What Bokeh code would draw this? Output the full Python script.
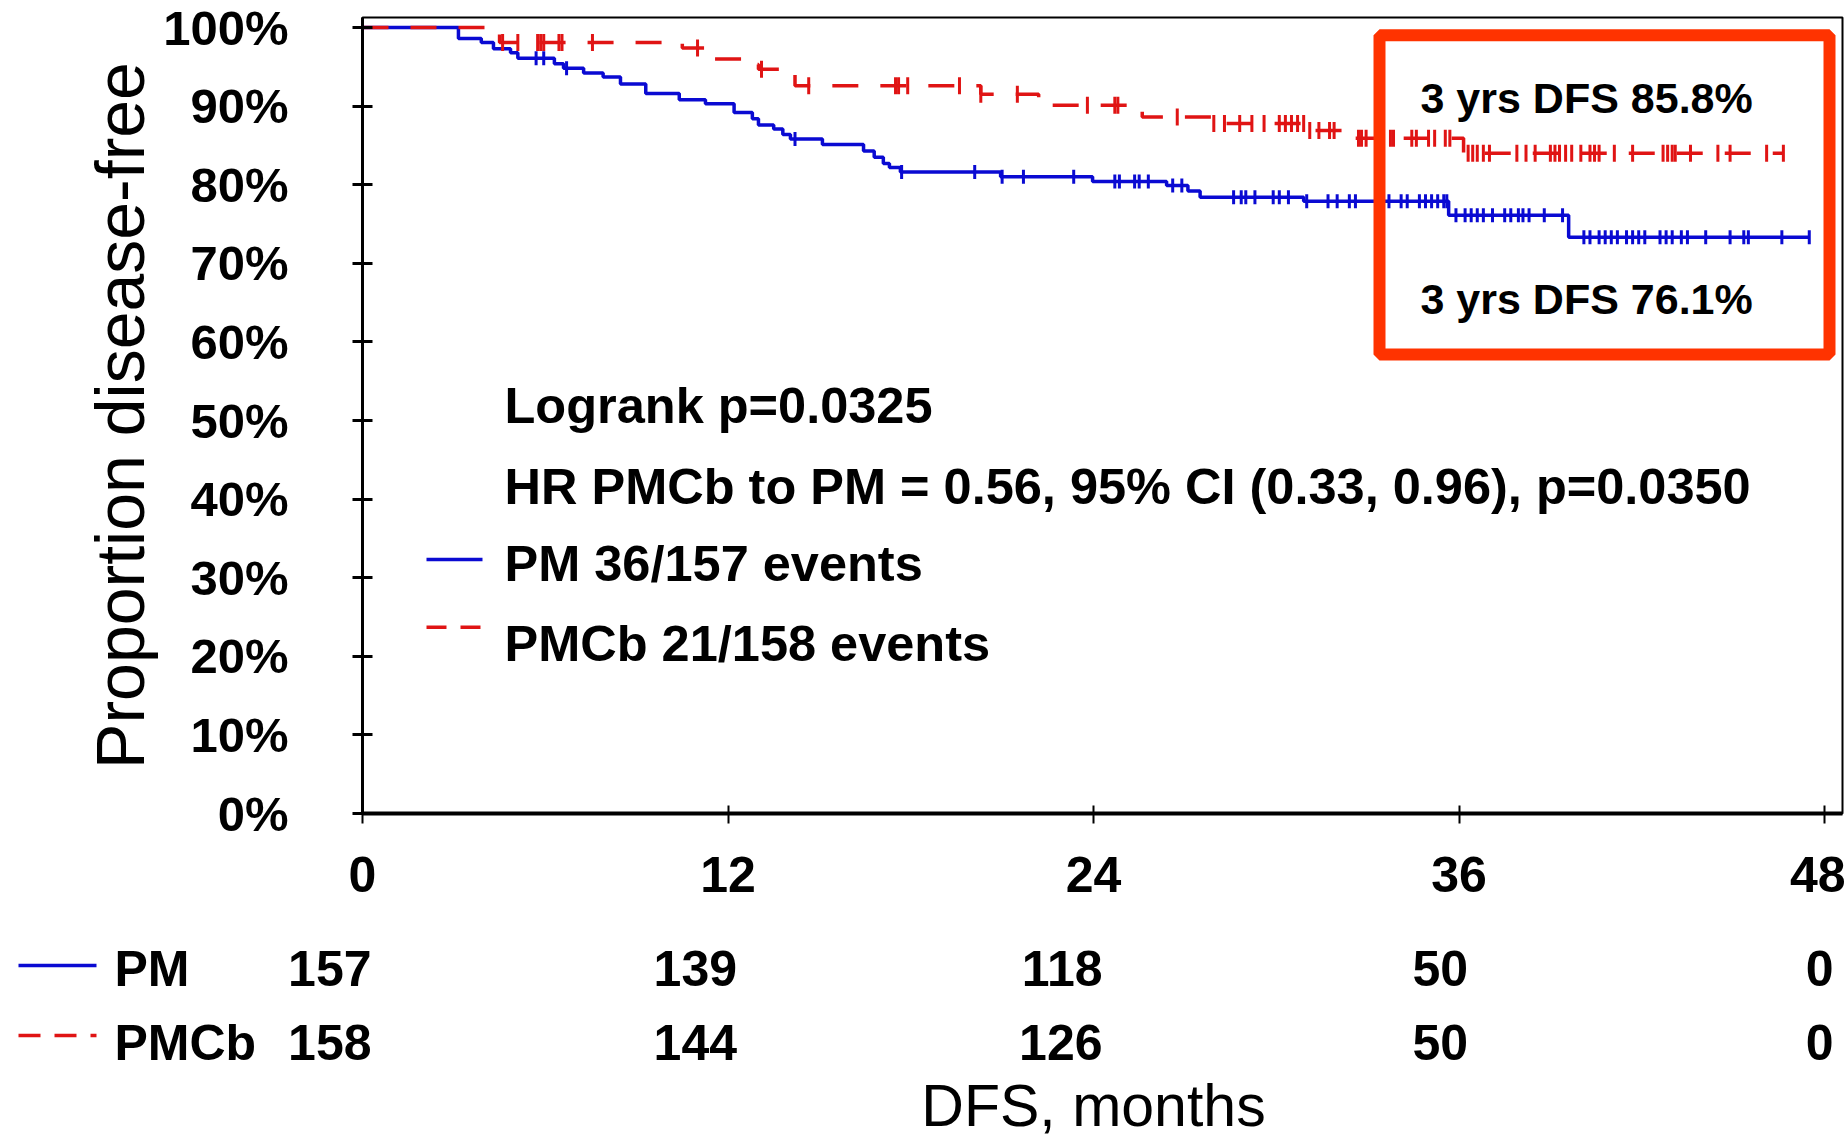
import numpy as np
from bokeh.plotting import figure
from bokeh.models import Range1d, FixedTicker, NumeralTickFormatter, BoxAnnotation
from bokeh.embed import file_html
from bokeh.resources import INLINE
from bokeh.core.properties import value

# ---------------- data ----------------
pm_times = [0.0, 3.15, 3.9, 4.3, 4.86, 5.1, 6.3, 6.6, 7.26, 7.9, 8.47, 9.3, 10.4, 11.26,
            12.2, 12.8, 13.0, 13.5, 13.8, 14.05, 15.1, 16.45, 16.8, 17.1, 17.3, 17.66,
            20.95, 23.97, 26.4, 27.1, 27.5, 30.9, 35.66, 39.6]
pm_surv = [1.0, 0.986, 0.981, 0.973, 0.968, 0.961, 0.954, 0.948, 0.942, 0.937, 0.928, 0.916,
           0.908, 0.903, 0.892, 0.884, 0.876, 0.871, 0.864, 0.858, 0.851, 0.843, 0.835, 0.827,
           0.822, 0.816, 0.810, 0.804, 0.799, 0.792, 0.784, 0.779, 0.761, 0.733]
pm_last = 47.5
pm_censored = [5.7, 5.95, 6.7, 14.2, 17.7, 20.1, 21.0, 21.7, 23.35, 24.7, 24.85, 25.35, 25.5,
               25.8, 26.6, 26.9, 28.6, 28.85, 29.0, 29.3, 29.9, 30.1, 30.4, 31.0, 31.7, 32.0,
               32.4, 32.6, 33.3, 33.45, 33.7, 34.1, 34.3, 34.7, 34.9, 35.1, 35.3, 35.5, 35.6,
               35.9, 36.2, 36.4, 36.6, 36.8, 37.1, 37.5, 37.7, 37.95, 38.1, 38.3, 38.8, 39.4,
               40.1, 40.3, 40.6, 40.8, 41.0, 41.2, 41.5, 41.7, 41.9, 42.1, 42.6, 42.8, 43.0,
               43.3, 43.5, 44.1, 44.9, 45.35, 45.5, 46.6, 47.5]

pmcb_times = [0.0, 4.5, 10.5, 11.26, 12.6, 13.0, 14.2, 20.3, 22.2, 25.6, 27.9, 31.06, 32.4, 36.15]
pmcb_surv = [1.0, 0.981, 0.974, 0.960, 0.953, 0.947, 0.926, 0.915, 0.901, 0.886, 0.878, 0.869,
             0.859, 0.840]
pmcb_last = 46.65
pmcb_censored = [4.6, 5.1, 5.75, 5.85, 5.95, 6.45, 6.55, 7.55, 11.0, 13.1, 14.65, 17.5, 17.6,
                 17.9, 19.6, 20.3, 21.5, 23.8, 24.7, 24.8, 26.75, 27.95, 28.3, 28.8, 29.2, 29.6,
                 30.1, 30.3, 30.5, 30.7, 30.9, 31.1, 31.4, 31.75, 31.9, 32.7, 32.8, 32.95, 33.75,
                 33.85, 34.45, 34.6, 35.0, 35.2, 35.55, 35.7, 36.3, 36.45, 36.6, 36.8, 37.0, 37.9,
                 38.2, 38.5, 39.0, 39.15, 39.3, 39.5, 39.7, 40.0, 40.3, 40.45, 40.6, 41.1, 41.7,
                 42.7, 42.85, 43.0, 43.1, 43.6, 44.5, 44.9, 46.1, 46.65]

risk_months = [0, 12, 24, 36, 48]
pm_at_risk = [157, 139, 118, 50, 0]
pmcb_at_risk = [158, 144, 126, 50, 0]
y_ticks = [0.0, 0.1, 0.2, 0.3, 0.4, 0.5, 0.6, 0.7, 0.8, 0.9, 1.0]

arm_labels = ["PM", "PMCb"]
legend_texts = ["PM 36/157 events", "PMCb 21/158 events"]
stat_texts = ["Logrank p=0.0325", "HR PMCb to PM = 0.56, 95% CI (0.33, 0.96),  p=0.0350"]
dfs_texts = ["3 yrs DFS 85.8%", "3 yrs DFS 76.1%"]

# ---------------- layout / style ----------------
BLUE = "#0a0ad2"
RED = "#e01414"
BOX = "#ff3300"
FNAME = "Liberation Sans"
FONT = value(FNAME)
W = 1845
H_TOP, H_TAB = 920, 224
FL, FT, FR = 362, 17, 3           # frame borders of the survival plot (px)
FRAME_H = 796
FB = H_TOP - FT - FRAME_H
PX = 1462.0 / 48.0                # px per month
PY = 786.0                        # px per unit of survival
X0, X1 = 0.0, (W - FL - FR) / PX
Y0, Y1 = 0.0, FRAME_H / PY


def mx(px_from_left_axis):
    """horizontal pixel offset from the y axis -> months"""
    return px_from_left_axis / PX


def step_xy(times, surv, last):
    return list(times) + [last], list(surv) + [surv[-1]]


def surv_at(times, surv, pts):
    idx = np.searchsorted(np.asarray(times), np.asarray(pts), side="right") - 1
    return [surv[i] for i in idx]


p = figure(width=W, height=H_TOP, x_range=Range1d(X0, X1), y_range=Range1d(Y0, Y1),
           output_backend="svg", toolbar_location=None,
           min_border_left=FL, min_border_right=FR, min_border_top=FT, min_border_bottom=FB)
p.grid.visible = False
p.outline_line_color = "black"
p.outline_line_width = 2
p.background_fill_color = "white"
p.border_fill_color = "white"

xa = p.xaxis[0]
xa.ticker = FixedTicker(ticks=risk_months)
xa.major_label_text_font = FNAME
xa.major_label_text_font_size = "50px"
xa.major_label_text_font_style = "bold"
xa.major_label_text_color = "black"
xa.major_label_standoff = 33
xa.major_tick_in = 8
xa.major_tick_out = 10
xa.major_tick_line_width = 2
xa.minor_tick_line_color = None
xa.axis_line_width = 4
xa.axis_line_color = "black"

ya = p.yaxis[0]
ya.ticker = FixedTicker(ticks=y_ticks)
ya.formatter = NumeralTickFormatter(format="0%")
ya.major_label_text_font = FNAME
ya.major_label_text_font_size = "49px"
ya.major_label_text_font_style = "bold"
ya.major_label_text_color = "black"
ya.major_label_standoff = 64
ya.major_tick_in = 10
ya.major_tick_out = 10
ya.major_tick_line_width = 3
ya.minor_tick_line_color = None
ya.axis_line_width = 3
ya.axis_line_color = "black"
ya.axis_label = "Proportion disease-free"
ya.axis_label_text_font = FNAME
ya.axis_label_text_font_size = "68px"
ya.axis_label_text_font_style = "normal"
ya.axis_label_text_color = "black"
ya.axis_label_standoff = 2

# curves
bx, by = step_xy(pm_times, pm_surv, pm_last)
rx, ry = step_xy(pmcb_times, pmcb_surv, pmcb_last)
p.step(bx, by, mode="after", line_color=BLUE, line_width=3.5)
p.step(rx, ry, mode="after", line_color=RED, line_width=3.5, line_dash="26 22")

# censor marks
p.scatter(pm_censored, surv_at(pm_times, pm_surv, pm_censored), marker="dash",
          angle=np.pi / 2, size=14, line_color=BLUE, line_width=3)
p.scatter(pmcb_censored, surv_at(pmcb_times, pmcb_surv, pmcb_censored), marker="dash",
          angle=np.pi / 2, size=17, line_color=RED, line_width=3)

# annotations inside the plot
p.text(x=[mx(142)] * 2, y=[0.519, 0.416], text=stat_texts, text_font=FONT,
       text_font_size="50.5px", text_font_style="bold", text_color="black",
       text_align="left", text_baseline="alphabetic")
p.text(x=[mx(142)] * 2, y=[0.318, 0.216], text=legend_texts, text_font=FONT,
       text_font_size="50.5px", text_font_style="bold", text_color="black",
       text_align="left", text_baseline="alphabetic")
p.segment(x0=[mx(64)], y0=[0.323], x1=[mx(120)], y1=[0.323], line_color=BLUE, line_width=3.5)
p.segment(x0=[mx(64)], y0=[0.237], x1=[mx(120)], y1=[0.237], line_color=RED, line_width=3.5,
          line_dash="20 14")

p.text(x=[mx(1058)] * 2, y=[0.910, 0.655], text=dfs_texts, text_font=FONT,
       text_font_size="43px", text_font_style="bold", text_color="black",
       text_align="left", text_baseline="alphabetic")
p.add_layout(BoxAnnotation(left=mx(1017), right=mx(1467), top=0.990, bottom=0.584,
                           fill_alpha=0, line_color=BOX, line_alpha=1.0, line_width=12))

# ---------------- number-at-risk table: its own figure, same month scale ----------------
t = figure(width=W, height=H_TAB, x_range=Range1d(-FL / PX, (W - FL) / PX),
           y_range=Range1d(H_TAB, 0), output_backend="svg", toolbar_location=None,
           x_axis_location=None, y_axis_location=None,
           min_border_left=0, min_border_right=0, min_border_top=0, min_border_bottom=0)
t.grid.visible = False
t.outline_line_color = None
t.background_fill_color = "white"
t.border_fill_color = "white"

ROW_Y = [48, 122]        # text rows (px from table top): PM, PMCb
SAMPLE_Y = [45, 115]     # line samples
for arm, counts, ry_, sy_, col, dash in zip(arm_labels, [pm_at_risk, pmcb_at_risk], ROW_Y,
                                            SAMPLE_Y, [BLUE, RED], ["solid", "22 14"]):
    t.text(x=[m + mx(9) for m in risk_months], y=[ry_] * len(counts),
           text=[str(c) for c in counts], text_font=FONT, text_font_size="50px",
           text_font_style="bold", text_color="black", text_align="right",
           text_baseline="alphabetic")
    t.text(x=[mx(-248)], y=[ry_], text=[arm], text_font=FONT, text_font_size="50px",
           text_font_style="bold", text_color="black", text_align="left",
           text_baseline="alphabetic")
    t.segment(x0=[mx(-344)], y0=[sy_], x1=[mx(-266)], y1=[sy_], line_color=col,
              line_width=3.5, line_dash=dash)

t.text(x=[24], y=[185], text=["DFS, months"], text_font=FONT, text_font_size="59px",
       text_font_style="normal", text_color="black", text_align="center",
       text_baseline="alphabetic")

open("out.html", "w").write(file_html([p, t], INLINE))
